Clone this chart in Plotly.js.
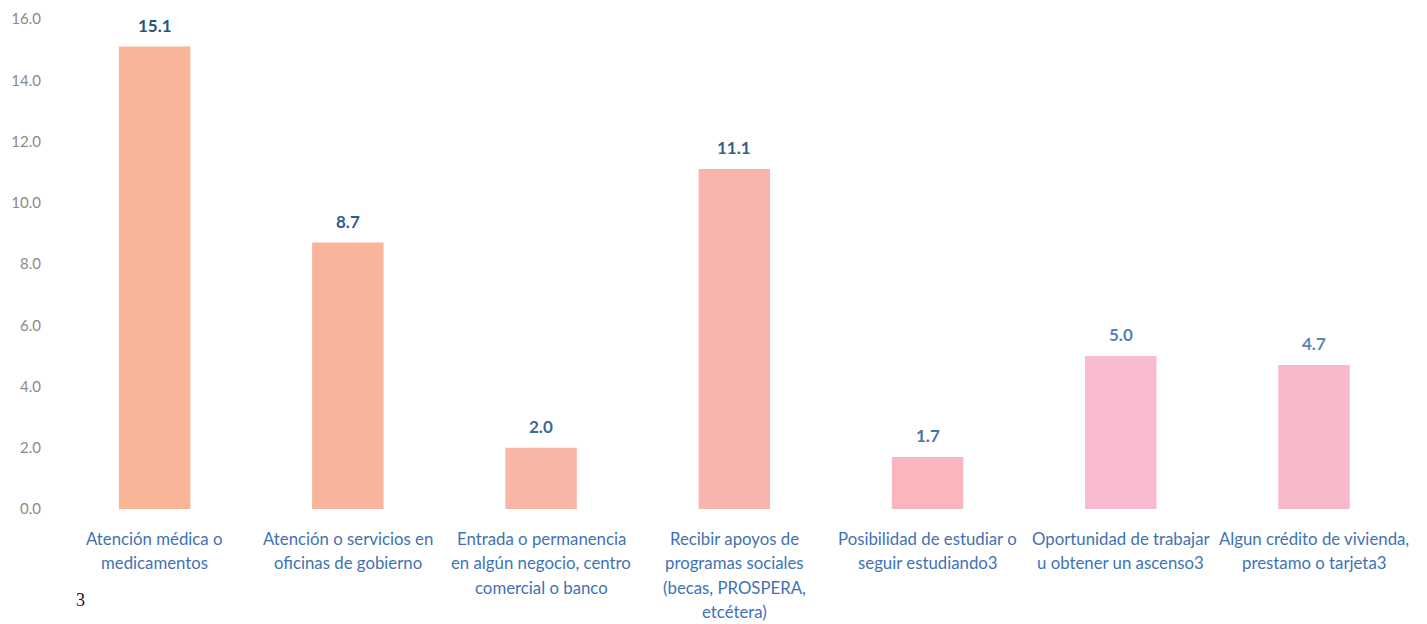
<!DOCTYPE html>
<html>
<head>
<meta charset="utf-8">
<script src="https://cdn.plot.ly/plotly-3.0.1.min.js"></script>
<style>html,body{margin:0;padding:0;background:#fff;}#chart{width:1427px;height:624px;}</style>
</head>
<body>
<div id="chart"></div>
<script>
const categories = [
  "Atención médica o<br>medicamentos",
  "Atención o servicios en<br>oficinas de gobierno",
  "Entrada o permanencia<br>en algún negocio, centro<br>comercial o banco",
  "Recibir apoyos de<br>programas sociales<br>(becas, PROSPERA,<br>etcétera)",
  "Posibilidad de estudiar o<br>seguir estudiando3",
  "Oportunidad de trabajar<br>u obtener un ascenso3",
  "Algun crédito de vivienda,<br>prestamo o tarjeta3"
];
const values = [15.1, 8.7, 2.0, 11.1, 1.7, 5.0, 4.7];
const barColors = ["#FAB497", "#FAB49E", "#F9B5A6", "#F9B4AE", "#F9B6BC", "#F8BBCD", "#F8BACA"];
const labelColors = ["#24557F", "#2E5E8C", "#3A6A98", "#345F8E", "#4573A4", "#5383BA", "#5A86B6"];
const yTicks = [0, 2, 4, 6, 8, 10, 12, 14, 16];

const trace = {
  type: "bar",
  x: categories,
  y: values,
  marker: { color: barColors, line: { width: 0 } },
  hoverinfo: "skip"
};

const annotations = categories.map((c, i) => ({
  x: c, y: values[i], xref: "x", yref: "y",
  text: values[i].toFixed(1),
  showarrow: false, yanchor: "bottom", yshift: 9,
  font: { family: "Lato, 'Open Sans', sans-serif", size: 17, color: labelColors[i], weight: 700 }
}));

// category labels, one annotation per line for the reference's wider line spacing
categories.forEach(c => {
  c.split("<br>").forEach((line, j) => {
    annotations.push({
      x: c, xref: "x", y: 0, yref: "paper",
      text: line, showarrow: false, xanchor: "center", yanchor: "middle",
      yshift: -(29 + j * 24.5),
      font: { family: "Lato, 'Open Sans', sans-serif", size: 16.8, color: "#3F72B5" }
    });
  });
});

annotations.push({
  xref: "paper", yref: "paper", x: 0.0163, y: -0.186, xanchor: "center", yanchor: "middle",
  text: "3", showarrow: false,
  font: { family: "'Liberation Serif', 'DejaVu Serif', serif", size: 18, color: "#111" }
});

const layout = {
  width: 1427, height: 624,
  margin: { l: 58, r: 16, t: 19, b: 115 },
  paper_bgcolor: "#ffffff", plot_bgcolor: "#ffffff",
  showlegend: false,
  bargap: 0.63,
  xaxis: {
    type: "category",
    showgrid: false, zeroline: false, showline: false,
    showticklabels: false, ticks: ""
  },
  yaxis: {
    range: [0, 16],
    tickvals: yTicks,
    ticktext: yTicks.map(v => v.toFixed(1)),
    showgrid: false, zeroline: false, showline: false,
    ticks: "outside", ticklen: 13, tickcolor: "rgba(0,0,0,0)",
    tickfont: { family: "Lato, 'Open Sans', sans-serif", size: 15, color: "#8A8A8A" }
  },
  annotations: annotations
};

Plotly.newPlot("chart", [trace], layout, { displayModeBar: false, staticPlot: true });
</script>
</body>
</html>
